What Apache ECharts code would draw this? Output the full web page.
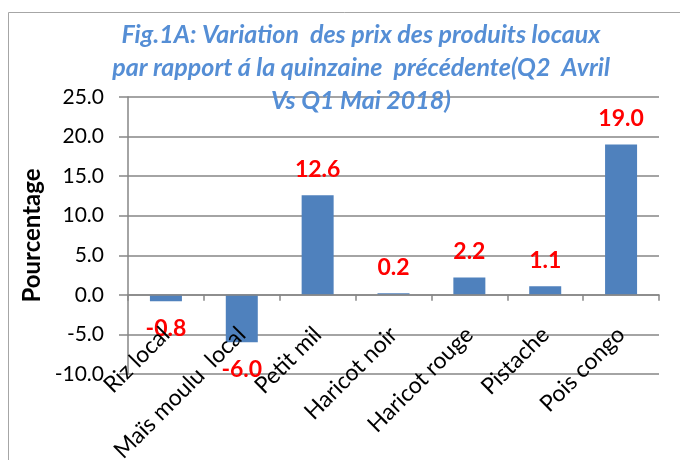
<!DOCTYPE html>
<html>
<head>
<meta charset="utf-8">
<script src="https://cdn.jsdelivr.net/npm/echarts@6/dist/echarts.min.js"></script>
<style>
  html, body { margin: 0; padding: 0; background: #fff; }
  #chart { width: 680px; height: 460px; }
</style>
</head>
<body>
<div id="chart"></div>
<script>
// produits et variation (%) Q2 Avril vs Q1 Mai 2018
const produits = ['Riz local', 'Maïs moulu  local', 'Petit mil', 'Haricot noir', 'Haricot rouge', 'Pistache', 'Pois congo'];
const variation = [-0.8, -6.0, 12.6, 0.2, 2.2, 1.1, 19.0];
const yTicks = { min: -10, max: 25, step: 5 };

const chart = echarts.init(document.getElementById('chart'));
const police = 'Lato, "Open Sans", sans-serif';
const gris = '#868686';

chart.setOption({
    animation: false,
    backgroundColor: '#fff',
    title: {
        text: 'Fig.1A: Variation  des prix des produits locaux\npar rapport á la quinzaine  précédente(Q2  Avril\nVs Q1 Mai 2018)',
        left: 356,
        top: 13,
        textAlign: 'center',
        textStyle: {
            color: '#558ED5',
            fontFamily: police,
            fontSize: 25,
            fontWeight: 'bold',
            fontStyle: 'italic',
            lineHeight: 33
        }
    },
    graphic: [{
        type: 'rect',
        shape: { x: 8.5, y: 12.5, width: 700, height: 500 },
        style: { fill: null, stroke: '#a6a6a6', lineWidth: 1 },
        z: -1
    }],
    grid: { left: 128, right: 21, top: 97, bottom: 86, outerBoundsMode: 'none', containLabel: false },
    xAxis: {
        type: 'category',
        data: produits,
        position: 'bottom',
        z: 3,
        axisLine: { onZero: false, lineStyle: { color: gris, width: 1.5 } },
        axisTick: { show: true, length: 6, lineStyle: { color: gris, width: 1.5 } },
        axisLabel: {
            rotate: 45,
            interval: 0,
            margin: 36,
            color: '#000',
            fontFamily: police,
            fontSize: 23
        }
    },
    yAxis: {
        type: 'value',
        min: yTicks.min,
        max: yTicks.max,
        interval: yTicks.step,
        name: 'Pourcentage',
        nameLocation: 'middle',
        nameGap: 81,
        nameTextStyle: { color: '#000', fontFamily: police, fontSize: 24, fontWeight: 'bold' },
        axisLine: { show: true, lineStyle: { color: gris, width: 1.5 } },
        axisTick: { show: true, length: 9, lineStyle: { color: gris, width: 1.5 } },
        axisLabel: {
            color: '#000',
            fontFamily: police,
            fontSize: 21,
            margin: 24,
            formatter: v => v.toFixed(1)
        },
        splitLine: { lineStyle: { color: gris, width: 1.5 } }
    },
    series: [{
        type: 'bar',
        barWidth: 32,
        itemStyle: { color: '#4F81BD' },
        data: variation.map(v => ({
            value: v,
            label: { position: v < 0 ? 'bottom' : 'top', distance: v < 0 ? 16 : 14 }
        })),
        label: {
            show: true,
            color: '#FF0000',
            fontFamily: police,
            fontSize: 23,
            fontWeight: 'bold',
            formatter: p => p.value.toFixed(1)
        }
    }]
});

// l'axe des catégories croise à zéro : on le remonte jusqu'à la ligne du 0
const yBas = chart.convertToPixel({ yAxisIndex: 0 }, yTicks.min);
const yZero = chart.convertToPixel({ yAxisIndex: 0 }, 0);
chart.setOption({ xAxis: { offset: yZero - yBas } });
</script>
</body>
</html>
